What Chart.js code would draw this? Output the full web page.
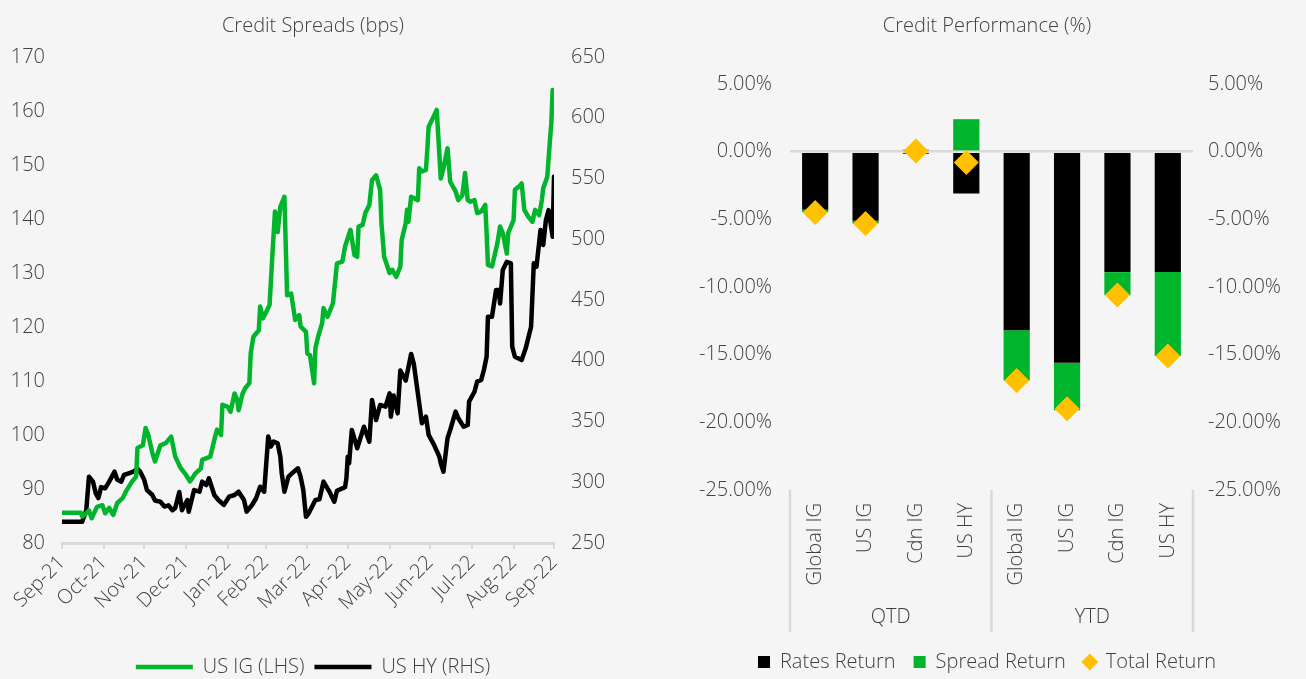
<!DOCTYPE html>
<html><head><meta charset="utf-8">
<script src="https://cdn.jsdelivr.net/npm/chart.js@4.4.1/dist/chart.umd.min.js"></script>
<style>
html,body{margin:0;padding:0;background:#f5f5f5;width:1306px;height:679px;overflow:hidden;}
.box{position:absolute;top:0;height:679px;}
#left{left:0;width:650px;}
#right{left:650px;width:656px;}
</style></head><body>
<div class="box" id="left"><canvas id="c1" width="650" height="679"></canvas></div>
<div class="box" id="right"><canvas id="c2" width="656" height="679"></canvas></div>
<script>
// ---------- Left chart data ----------
const monthLabels = ['Sep-21','Oct-21','Nov-21','Dec-21','Jan-22','Feb-22','Mar-22','Apr-22','May-22','Jun-22','Jul-22','Aug-22','Sep-22'];
const monthDays = [0,31,61,92,123,151,182,212,243,273,304,335,365]; // days since 30-Sep-2021

const igDays = [0,14,15,20,22,26,30,32,35,38,41,45,48,52,55,56,60,62,64,67,69,73,77,81,84,88,92,95,99,103,104,110,113,115,118,119,123,125,128,130,131,134,136,139,140,142,146,147,149,151,154,156,158,160,162,165,167,170,173,176,177,181,182,184,187,188,190,193,194,197,201,204,208,210,214,217,219,220,223,225,228,230,233,236,237,239,243,245,248,251,252,255,256,257,259,264,265,267,270,271,272,275,278,281,283,286,288,292,294,297,299,301,303,306,308,311,314,315,316,319,323,325,327,330,331,333,335,336,339,341,343,346,349,351,354,356,357,360,362,363,364];
const igValues = [85.6,85.6,84.9,86,84.6,86.7,87,85.5,86.5,85.2,87.4,88.3,89.8,91.4,92.3,97.6,98.1,101.3,100,96.7,95.1,98.1,98.5,99.7,96,93.9,92.6,91.4,92.9,93.8,95.4,96,99.1,101,100,105.6,105.2,104.3,107.7,106.5,104.6,107.7,108.7,109.6,115.1,118.2,119.4,123.8,121.6,122.5,124.1,133,141.4,137.6,142.3,144.1,125.9,126.2,121.3,122.2,120.1,119.1,115.1,114.8,109.6,116.1,118.2,120.7,123.5,121.9,124.4,131.8,132.1,134.9,138,133.3,133,138.6,138.9,141.1,142.6,147.2,148.1,145.4,139.2,133,130,130.6,129.3,131.2,136.1,139.2,141.7,139.5,144.1,143.5,149.4,148.8,149.1,152.8,157.1,158.6,160.2,147.5,149.4,153.1,146.9,145.1,143.5,144.4,148.5,143.5,143.2,143.5,141.1,141.4,142.6,137.4,131.5,131.2,135.5,138.6,137.4,133.6,137.4,138.6,139.8,145.4,146,146.6,141.7,140.4,139.5,141.7,140.7,143.5,145.7,147.8,154.6,157.7,163.9];

const hyDays = [0,15,18,20,23,25,27,29,32,35,39,41,44,46,50,53,56,58,61,63,67,69,73,76,79,82,84,87,89,93,94,98,102,104,107,109,113,116,120,124,128,131,135,137,141,144,147,150,151,153,155,157,160,162,163,165,168,172,175,177,179,181,183,188,191,194,199,202,204,210,211,212,213,215,219,224,228,230,233,236,240,243,244,246,249,251,255,259,261,265,267,270,272,276,280,281,283,286,288,292,294,298,301,302,306,308,311,313,315,316,319,322,324,325,327,330,333,334,336,341,344,348,350,352,355,357,359,361,364,365];
const hyValues = [267.5,267.5,277,304.6,300.5,291,287,296,295,300.5,308.7,302,300.5,306,307.6,308.7,311,308.7,302,293.6,289.5,285,284,280,281,277,278.8,292,277,285.4,275.8,293.6,292.2,300.5,297.7,303.2,289.5,285.4,281.3,288.1,289.5,292.2,285.4,275.8,281.3,286.8,296.3,292.2,307.4,337.6,329.4,333.4,332,321,307.4,292.2,304.6,308.7,311.5,304.6,293.6,271.6,274.4,285.4,286,300.5,291,284,293,296,303.2,321,315.5,343,328,345.7,333.4,367.7,351.2,363.6,362.2,373.2,354,371.4,356.7,392,383.7,405.6,397.4,365,348.5,354,339,330.8,321,315.5,308.7,336.2,343,358.1,352.6,345.7,347.1,366.3,374.5,382.8,384.2,392.4,403.3,436.3,436.3,458.2,458.2,447.2,474.7,481.5,480.2,411.6,403.3,400.6,410.2,428,480.2,477.4,507.6,495.3,515.8,524,502.1,551.5];

// ---------- Right chart data ----------
const categories = ['Global IG','US IG','Cdn IG','US HY','Global IG','US IG','Cdn IG','US HY'];
const groups = ['QTD','YTD'];
const ratesReturn = [-4.3,-5.1,-0.15,-3.1,-13.2,-15.6,-8.9,-8.9];
const spreadReturn = [-0.17,-0.2,0.15,2.4,-3.7,-3.5,-1.7,-6.2];
const totalReturn = [-4.5,-5.3,0.05,-0.8,-16.9,-19.0,-10.6,-15.1];

const GREEN = '#00b52c';
const GOLD = '#ffc000';
const TEXT = '#404040';
const AXIS = '#d9d9d9';
const FS = 20;
const FW = 300;
const FAMILY = '"Open Sans", Lato, sans-serif';

Chart.defaults.font.family = FAMILY;
Chart.defaults.font.size = FS;
Chart.defaults.font.weight = FW;
Chart.defaults.color = TEXT;

new Chart(document.getElementById('c1'), {
  type: 'line',
  data: {
    datasets: [
      { label: 'US IG (LHS)', data: igDays.map((d,i)=>({x:d,y:igValues[i]})), borderColor: GREEN, backgroundColor: GREEN,
        borderWidth: 4.5, pointRadius: 0, tension: 0, yAxisID: 'y', borderJoinStyle: 'round', borderCapStyle: 'round' },
      { label: 'US HY (RHS)', data: hyDays.map((d,i)=>({x:d,y:hyValues[i]})), borderColor: '#000', backgroundColor: '#000',
        borderWidth: 4.5, pointRadius: 0, tension: 0, yAxisID: 'y1', borderJoinStyle: 'round', borderCapStyle: 'round' }
    ]
  },
  options: {
    responsive: false, animation: false,
    layout: { padding: { left: 0, right: 24, top: 0, bottom: -8 } },
    plugins: {
      title: { display: true, text: 'Credit Spreads (bps)', color: TEXT, font: { size: FS, weight: FW }, padding: { top: 14, bottom: 19 } },
      legend: { position: 'bottom', labels: { usePointStyle: true, pointStyle: 'line', pointStyleWidth: 57, padding: 10, color: TEXT, font: { size: FS, weight: FW } } },
      tooltip: { enabled: false }
    },
    scales: {
      x: {
        type: 'linear', min: 0, max: 365,
        afterBuildTicks: (s) => { s.ticks = monthDays.map(v => ({ value: v })); },
        ticks: { autoSkip: false, minRotation: 45, maxRotation: 45, padding: 2, callback: (v, i) => monthLabels[i] },
        grid: { display: true, drawOnChartArea: false, drawTicks: true, tickLength: 6, color: AXIS, lineWidth: 2 },
        border: { display: true, color: AXIS, width: 3 },
        afterFit: (s) => { s.height = 104; }
      },
      y: {
        position: 'left', min: 80, max: 170,
        ticks: { stepSize: 10, padding: 17 },
        grid: { display: false, drawTicks: false }, border: { display: false },
        afterFit: (s) => { s.width = 62; }
      },
      y1: {
        position: 'right', min: 250, max: 650,
        ticks: { stepSize: 50, padding: 17 },
        grid: { display: false, drawTicks: false }, border: { display: false },
        afterFit: (s) => { s.width = 72; }
      }
    }
  }
});

const groupPlugin = {
  id: 'groupLabels',
  afterDraw(chart) {
    const { ctx, chartArea, scales } = chart;
    const x = scales.x;
    const per = categories.length / groups.length;
    const bounds = [chartArea.left];
    for (let g = 1; g < groups.length; g++) {
      bounds.push((x.getPixelForValue(g * per - 1) + x.getPixelForValue(g * per)) / 2);
    }
    bounds.push(chartArea.right);
    ctx.save();
    ctx.strokeStyle = AXIS; ctx.lineWidth = 2.5;
    bounds.forEach(b => {
      ctx.beginPath(); ctx.moveTo(b, chartArea.bottom); ctx.lineTo(b, chartArea.bottom + 142); ctx.stroke();
    });
    ctx.fillStyle = TEXT; ctx.font = FW + ' ' + FS + 'px ' + FAMILY;
    ctx.textAlign = 'center'; ctx.textBaseline = 'middle';
    groups.forEach((g, i) => { ctx.fillText(g, (bounds[i] + bounds[i+1]) / 2, chartArea.bottom + 127); });
    ctx.restore();
  }
};

const pctTicks = { stepSize: 5, callback: (v) => v.toFixed(2) + '%' };

new Chart(document.getElementById('c2'), {
  type: 'bar',
  data: {
    labels: categories,
    datasets: [
      { label: 'Rates Return', data: ratesReturn, backgroundColor: '#000', stack: 's', order: 1, pointStyle: 'rect',
        barPercentage: 0.52, categoryPercentage: 1 },
      { label: 'Spread Return', data: spreadReturn, backgroundColor: GREEN, stack: 's', order: 1, pointStyle: 'rect',
        barPercentage: 0.52, categoryPercentage: 1 },
      { type: 'line', label: 'Total Return', data: totalReturn, showLine: false, stack: 't', order: 0,
        pointStyle: 'rectRot', pointRadius: 12.5, pointBackgroundColor: GOLD, pointBorderWidth: 0,
        backgroundColor: GOLD, borderColor: GOLD, borderWidth: 0 }
    ]
  },
  plugins: [groupPlugin],
  options: {
    responsive: false, animation: false,
    layout: { padding: { left: 18, right: 0, top: 0, bottom: -3 } },
    plugins: {
      title: { display: true, text: 'Credit Performance (%)', color: TEXT, font: { size: FS, weight: FW }, padding: { top: 14, bottom: 46 } },
      legend: { position: 'bottom', labels: { usePointStyle: true, boxWidth: 12, boxHeight: 12, padding: 18, color: TEXT, font: { size: FS, weight: FW },
        sort: (a, b) => a.datasetIndex - b.datasetIndex } },
      tooltip: { enabled: false }
    },
    scales: {
      x: {
        stacked: true,
        grid: { display: false, drawTicks: false }, border: { display: false },
        ticks: { minRotation: 90, maxRotation: 90, autoSkip: false, padding: 13 },
        afterFit: (s) => { s.height = 144; }
      },
      y: {
        stacked: true, position: 'left', min: -25, max: 5,
        ticks: Object.assign({ padding: 18 }, pctTicks),
        grid: { drawTicks: false, color: (c) => (c.tick && c.tick.value === 0 ? AXIS : 'rgba(0,0,0,0)'), lineWidth: 2.5 },
        border: { display: false },
        afterFit: (s) => { s.width = 122; }
      },
      y2: {
        position: 'right', min: -25, max: 5,
        ticks: Object.assign({ padding: 15 }, pctTicks),
        grid: { display: false, drawTicks: false }, border: { display: false },
        afterFit: (s) => { s.width = 113; }
      }
    }
  }
});
</script>
</body></html>
